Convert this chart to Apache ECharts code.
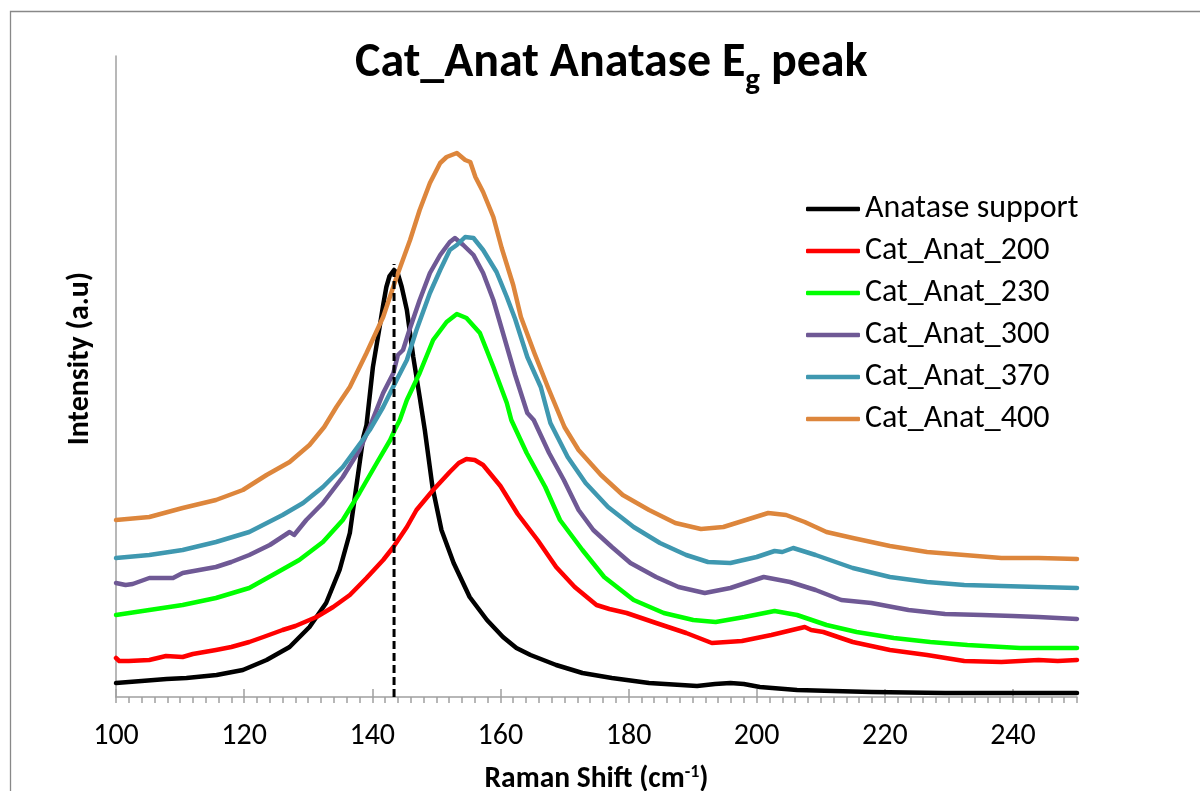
<!DOCTYPE html>
<html>
<head>
<meta charset="utf-8">
<script src="https://cdn.jsdelivr.net/npm/echarts@6/dist/echarts.min.js"></script>
<style>
html,body{margin:0;padding:0;background:#fff;}
#c{width:1200px;height:791px;}
</style>
</head>
<body>
<div id="c"></div>
<script>
// ---- data (Raman shift cm-1, intensity a.u.) ----
const seriesNames = ['Anatase support','Cat_Anat_200','Cat_Anat_230','Cat_Anat_300','Cat_Anat_370','Cat_Anat_400'];
const xTickMin = 100, xTickMax = 250, xTickStep = 20, xMinorStep = 2;
const peakLineX = [143.4];
const peakLineTop = [433];

const anataseSupport = [[100,14],[104,16],[107.9,18],[111,19],[115.7,22],[119.8,27],[123.5,37],[127.1,50],[130.2,70],[132.8,94],[134.9,127],[136.5,164],[137.5,210],[138.6,260],[139.1,272],[140.1,330],[141.2,372],[141.7,392],[142.2,410],[142.7,421],[143.4,427],[144,423],[144.6,410],[145.4,387],[146.4,340],[147.4,300],[148.2,267],[149.4,210],[150.8,167],[152.7,134],[155.2,100],[157.9,77],[160.4,60],[162.5,49],[164.7,42],[168.7,32],[172.8,24],[177.4,19],[183.2,14],[190.7,11],[193.5,13],[195.9,14],[198,13],[200.5,10],[206.3,7],[212,6],[217.9,5],[229.4,4],[240,4],[250,4]];
const catAnat200 = [[100,39],[100.5,36],[102,36],[105.2,37],[107.8,41],[110.4,40],[112,43],[115.6,47],[118,50],[120.8,55],[123,60],[126,67],[128,71],[131.3,80],[133.9,90],[136.5,102],[139.1,119],[141.7,137],[143.3,150],[145.4,170],[146.9,187],[149.5,207],[152.1,225],[153.5,234],[154.7,238],[156,237],[157.3,232],[160,211],[162.7,183],[165.8,157],[168.7,130],[171.6,110],[175,92],[177,88],[179.7,84],[184.3,74],[189,64],[193,54],[197.7,56],[202.3,62],[207.5,70],[208.5,67],[210.4,65],[215,55],[220.8,47],[226.6,42],[232.4,36],[238.2,35],[244,37],[247,36],[250,37]];
const catAnat230 = [[100,82],[105.2,87],[110.4,92],[115.6,99],[120.8,109],[125,124],[128.6,137],[132.3,155],[135.4,177],[138,204],[140.7,234],[142.8,257],[143.5,267],[144.3,277],[145.4,297],[147.4,324],[149.5,357],[151.6,375],[153.2,383],[154.7,379],[156.8,364],[158.9,330],[161,294],[161.7,277],[164.1,244],[167,210],[169.3,177],[172.8,147],[176.2,120],[180.8,97],[185.5,84],[190.1,77],[193.6,75],[198.1,80],[202.8,86],[206.3,82],[210.9,72],[215.6,65],[221.4,59],[227.1,55],[232.9,52],[241.1,49],[250,49]];
const catAnat300 = [[100,114],[101.5,112],[102.6,113],[105.2,119],[108.9,119],[110.4,124],[113,127],[115.6,130],[118,135],[120.8,142],[124,152],[127.1,165],[127.8,162],[129.7,177],[132.3,194],[135.4,220],[138,247],[139.6,270],[141.7,304],[143.3,324],[144,342],[144.8,347],[145.8,367],[147.4,397],[149,424],[150.6,442],[152.1,455],[152.9,459],[154.2,452],[155.8,442],[157.3,424],[158.9,397],[160.4,364],[162.3,322],[164.2,284],[165.2,277],[167.6,244],[169.9,217],[172.2,187],[174.5,167],[177.4,150],[180.3,134],[184.3,120],[187.8,110],[191.9,104],[195.9,109],[201.1,120],[205.2,115],[209.2,107],[213.2,97],[217.9,94],[223.7,87],[229.4,83],[235.2,82],[240,81],[244,80],[250,78]];
const catAnat370 = [[100,139],[105.2,142],[110.4,147],[115.6,155],[120.8,165],[126,182],[129.2,194],[132.3,210],[135.4,230],[138.5,257],[139.6,267],[141.7,290],[143.8,317],[145.4,337],[146.9,367],[149,404],[150.6,427],[152.1,447],[153.2,452],[154.5,460],[155.8,459],[157.3,447],[159.4,425],[161,400],[162.3,378],[164.2,340],[166.3,310],[167.8,274],[170.5,240],[173.3,214],[176.8,190],[180.8,170],[184.9,154],[189,142],[192.4,135],[195.9,134],[200,140],[202.8,146],[204,145],[205.7,149],[209.2,142],[215,129],[220.8,120],[226.6,115],[232.4,112],[238.2,111],[244,110],[250,109]];
const catAnat400 = [[100,177],[105.2,180],[110.4,189],[115.6,197],[119.8,207],[123.5,222],[127.1,235],[130.2,252],[132.5,270],[134.4,290],[136.5,310],[139.1,344],[141.7,380],[143.8,420],[145.9,457],[147.4,487],[149,514],[150.6,534],[151.6,540],[153.2,544],[154.5,537],[155.3,535],[156.1,520],[157.3,505],[158.9,480],[160.2,449],[162,412],[163.2,380],[165.3,344],[167.4,310],[170,270],[172.2,247],[175.7,222],[179.1,202],[183.2,187],[187.3,174],[191.3,168],[194.8,170],[198.3,177],[201.8,184],[204.6,182],[207.5,175],[210.9,165],[215,159],[220.8,151],[226.6,145],[232.4,142],[238.2,139],[244,139],[250,138]];

const seriesData = [anataseSupport, catAnat200, catAnat230, catAnat300, catAnat370, catAnat400];
const seriesColors = ['#000000','#ff0000','#00ff00','#6f5995','#3f98b0','#dd863c'];

const chart = echarts.init(document.getElementById('c'), null, {renderer:'canvas'});
const FONT = 'Carlito, "Open Sans", sans-serif';

const series = seriesNames.map((n,i)=>({
  name:n, type:'line', data:seriesData[i], xAxisIndex:0, yAxisIndex:0,
  showSymbol:false, symbol:'none', smooth:false, animation:false,
  lineStyle:{color:seriesColors[i], width:4.5, join:'round', cap:'round'},
  itemStyle:{color:seriesColors[i]}, z:2+i
}));
series.push({
  name:'peak', type:'line', xAxisIndex:0, yAxisIndex:0, showSymbol:false, symbol:'none', animation:false,
  data:[[peakLineX[0],0],[peakLineX[0],peakLineTop[0]]],
  lineStyle:{color:'#000', width:3, type:[8,4]}, z:20, silent:true
});

chart.setOption({
  backgroundColor:'#fff',
  animation:false,
  title:{
    text:'{t|Cat_Anat Anatase E}{s|g}{t| peak}',
    left:350, top:31,
    textStyle:{
      rich:{
        t:{fontFamily:FONT, fontWeight:'bold', fontSize:48, color:'#000', lineHeight:56},
        s:{fontFamily:FONT, fontWeight:'bold', fontSize:31, color:'#000', lineHeight:30, padding:[34,0,0,0]}
      }
    }
  },
  graphic:[{type:'rect', shape:{x:10.5,y:11.5,width:1400,height:1000}, style:{fill:'none', stroke:'#888', lineWidth:1.3}, silent:true, z:-1}],
  legend:{
    orient:'vertical', left:801, top:186,
    data:seriesNames, icon:'roundRect', itemWidth:54, itemHeight:4.5, itemGap:6,
    textStyle:{fontFamily:FONT, fontSize:32, color:'#000', lineHeight:36},
    selectedMode:false
  },
  grid:{left:116, right:123, top:56, bottom:94, containLabel:false, outerBoundsMode:'none'},
  xAxis:[{
    type:'value', min:xTickMin, max:xTickMax, interval:xTickStep, position:'bottom',
    name:'{n|Raman Shift (cm}{p|-1}{n|)}', nameLocation:'middle', nameGap:66,
    nameTextStyle:{rich:{
      n:{fontFamily:FONT, fontWeight:'bold', fontSize:29.5, color:'#000', lineHeight:32, verticalAlign:'bottom'},
      p:{fontFamily:FONT, fontWeight:'bold', fontSize:18, color:'#000', lineHeight:32, verticalAlign:'top'}
    }},
    axisLine:{show:true, onZero:false, lineStyle:{color:'#a0a0a0', width:1.5}},
    axisTick:{show:true, inside:true, length:8, lineStyle:{color:'#a0a0a0', width:1.5}},
    axisLabel:{fontFamily:FONT, fontSize:30, color:'#000', margin:24, showMaxLabel:false},
    splitLine:{show:false}
  },{
    type:'value', min:xTickMin, max:xTickMax, interval:xMinorStep, position:'bottom',
    axisLine:{show:false, onZero:false}, axisLabel:{show:false},
    axisTick:{show:true, inside:false, length:6, lineStyle:{color:'#a0a0a0', width:1.5}},
    splitLine:{show:false}
  }],
  yAxis:{
    type:'value', min:0, max:641,
    name:'Intensity (a.u)', nameLocation:'middle', nameGap:21, nameRotate:90,
    nameTextStyle:{fontFamily:FONT, fontWeight:'bold', fontSize:30, color:'#000', padding:[0,0,0,36]},
    axisLine:{show:true, lineStyle:{color:'#a0a0a0', width:1.5}},
    axisTick:{show:false}, axisLabel:{show:false}, splitLine:{show:false}
  },
  series:series
});
</script>
</body>
</html>
